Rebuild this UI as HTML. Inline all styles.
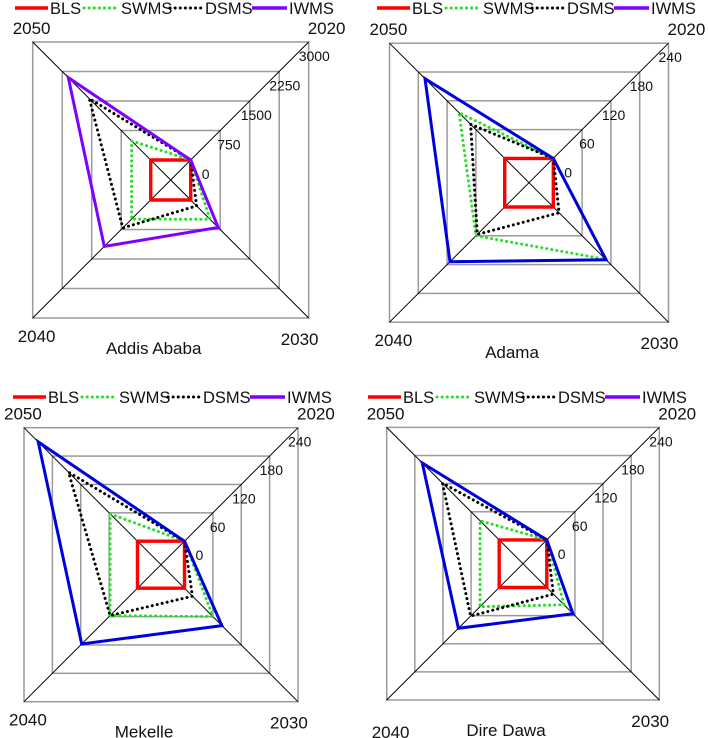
<!DOCTYPE html>
<html><head><meta charset="utf-8"><style>
html,body{margin:0;padding:0;background:#fff;}
svg{display:block;font-family:"Liberation Sans",Arial,sans-serif;}
</style></head><body>
<svg id="s" width="708" height="738" viewBox="0 0 708 738"></svg>
<script>
const years = ["2020","2030","2040","2050"];
const seriesNames = ["BLS","SWMS","DSMS","IWMS"];
const cityNames = ["Addis Ababa","Adama","Mekelle","Dire Dawa"];
const tickAddis = ["0","750","1500","2250","3000"];
const tickOther = ["0","60","120","180","240"];
const addisBLS = [0,0,0,0];
const addisSWMS = [0,490,485,485];
const addisDSMS = [0,150,710,1560];
const addisIWMS = [0,700,1180,2095];
const adamaBLS = [0,0,0,0];
const adamaSWMS = [0,109,60,95];
const adamaDSMS = [0,12,57,71];
const adamaIWMS = [0,110,114,166];
const mekelleBLS = [0,0,0,0];
const mekelleSWMS = [0,60,58,58];
const mekelleDSMS = [0,17,58,146];
const mekelleIWMS = [0,79,118,210];
const direBLS = [0,0,0,0];
const direSWMS = [0,37,41,41];
const direDSMS = [0,14,61,121];
const direIWMS = [0,56,87,164];
const maxAddis = 3000, maxOther = 240;

const NS="http://www.w3.org/2000/svg";
const svg=document.getElementById('s');
function mk(tag,attrs,parent){const e=document.createElementNS(NS,tag);for(const k in attrs)e.setAttribute(k,attrs[k]);(parent||svg).appendChild(e);return e;}

const panels=[
 {cx:170.7,cy:180,r0:20,rmax:138,max:maxAddis,ticks:tickAddis,data:[addisBLS,addisSWMS,addisDSMS,addisIWMS],iw:"#7f00ff",lx:15,ly:8,title:cityNames[0]},
 {cx:529,cy:182.7,r0:24.3,rmax:139.5,max:maxOther,ticks:tickOther,data:[adamaBLS,adamaSWMS,adamaDSMS,adamaIWMS],iw:"#0000dd",lx:377,ly:8,title:cityNames[1]},
 {cx:161,cy:564.7,r0:23.5,rmax:137,max:maxOther,ticks:tickOther,data:[mekelleBLS,mekelleSWMS,mekelleDSMS,mekelleIWMS],iw:"#0000dd",lx:13,ly:397,title:cityNames[2]},
 {cx:523,cy:563.7,r0:23.8,rmax:136.3,max:maxOther,ticks:tickOther,data:[direBLS,direSWMS,direDSMS,direIWMS],iw:"#0000dd",lx:368,ly:397,title:cityNames[3]}
];
const dirs=[[1,-1],[1,1],[-1,1],[-1,-1]];
const tickDx=[11,-3,-9,-10,-10];

panels.forEach((p,pi)=>{
  const g=mk('g',{});
  
  
  const rOf=v=>p.r0+(p.rmax-p.r0)*v/p.max;
  p.ticks.forEach((t,i)=>{
    const v=p.max*i/(p.ticks.length-1), r=rOf(v);
    if(i>0){
      const ring=mk('rect',{x:p.cx-r,y:p.cy-r,width:2*r,height:2*r,fill:'none',stroke:'#9a9a9a','stroke-width':1.5},g);
      
      
    }
    const tl=mk('text',{x:p.cx+r+tickDx[i],y:p.cy-r+19,'font-size':14,fill:'#111'},g);
    tl.textContent=t;
    
    
  });
  dirs.forEach((d,k)=>{
    const ax=mk('line',{x1:p.cx,y1:p.cy,x2:p.cx+d[0]*p.rmax,y2:p.cy+d[1]*p.rmax,stroke:'#000','stroke-width':1},g);
    
    
  });
  const yl=[[p.cx+p.rmax-1,p.cy-p.rmax-8],[p.cx+p.rmax-28,p.cy+p.rmax+27],[p.cx-p.rmax-15,p.cy+p.rmax+24],[p.cx-p.rmax-20,p.cy-p.rmax-8]];
  if(pi===3){yl[2][1]+=14;}
  years.forEach((y,k)=>{
    const t=mk('text',{x:yl[k][0],y:yl[k][1],'font-size':17,fill:'#111'},g);
    t.textContent=y;
    
    
  });
  const tt=mk('text',{x:p.cx-17,y:p.cy+p.rmax+36,'font-size':17,fill:'#111','text-anchor':'middle'},g);
  tt.textContent=p.title;
  
  
  const styles=[
    {stroke:'#ff0000',w:3.4,dash:null},
    {stroke:'#22e022',w:3,dash:'0.1 5'},
    {stroke:'#000',w:3,dash:'0.1 5'},
    {stroke:p.iw,w:3,dash:null}];
  p.data.forEach((arr,si)=>{
    const pts=arr.map((v,k)=>{const r=rOf(v);return (p.cx+dirs[k][0]*r).toFixed(1)+','+(p.cy+dirs[k][1]*r).toFixed(1);}).join(' ');
    const a={points:pts,fill:'none',stroke:styles[si].stroke,'stroke-width':styles[si].w,'stroke-linejoin':'miter'};
    if(styles[si].dash){a['stroke-dasharray']=styles[si].dash;a['stroke-linecap']='round';}
    const pl=mk('polygon',a,g);
    
    
  });
  const lg=mk('g',{},g);
  
  
  const lx=p.lx, ly=p.ly;
  const items=[[0,33,37,"#ff0000",null],[69,35,105,"#22e022",'0.1 5'],[155,33,192,"#000",'0.1 5'],[237,35,275,"#7f00ff",null]];
  items.forEach((it,si)=>{
    const a={x1:lx+it[0],y1:ly,x2:lx+it[0]+it[1],y2:ly,stroke:it[3],'stroke-width':3.4};
    if(it[4]){a['stroke-dasharray']=it[4];a['stroke-linecap']='round';a['stroke-width']=3;}
    const ln=mk('line',a,lg);
    
    
    const t=mk('text',{x:lx+it[0]+it[1]+2,y:ly+6,'font-size':16.5,fill:'#111'},lg);
    t.textContent=seriesNames[si];
    
    
  });
});
</script>
</body></html>
